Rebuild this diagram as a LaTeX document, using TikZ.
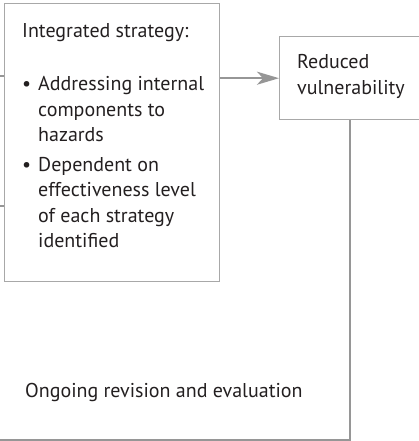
\documentclass[tikz,border=0pt]{standalone}
\usepackage{fontspec}
\setmainfont{PT Sans}
\usetikzlibrary{arrows.meta}

\definecolor{boxgray}{RGB}{168,168,168}
\definecolor{linegray}{RGB}{150,150,150}
\definecolor{inkgray}{RGB}{35,31,32}

\tikzset{
  box/.style={draw=boxgray, line width=1.4pt, inner sep=0pt, anchor=north west},
  link/.style={draw=linegray, line width=2.2pt},
  txt/.style={inner sep=0pt, anchor=base west, text=inkgray, font=\fontsize{20}{25}\selectfont},
}

\begin{document}
\begin{tikzpicture}[x=1pt,y=-1pt]

% Page frame
\clip (0,0) rectangle (419,441);

% Boxes
\node[box, minimum width=215pt, minimum height=278pt] (strategy) at (4,3) {};
\node[box, minimum width=160pt, minimum height=83pt] (reduced) at (279,36) {};

% Texts of the left box
\node[txt] (title) at (22,38) {Integrated strategy:};
\node[txt] (bulA) at (22,91) {\textbullet};
\node[txt] (lineA1) at (38,91) {Addressing internal};
\node[txt] (lineA2) at (38,116) {components to};
\node[txt] (lineA3) at (38,141) {hazards};
\node[txt] (bulB) at (22,171) {\textbullet};
\node[txt] (lineB1) at (38,171) {Dependent on};
\node[txt] (lineB2) at (38,196) {effectiveness level};
\node[txt] (lineB3) at (38,222) {of each strategy};
\node[txt] (lineB4) at (38,247) {identified};

% Texts of the right box
\node[txt] (red1) at (297,69) {Reduced};
\node[txt] (red2) at (297,95) {vulnerability};

% Feedback label
\node[txt] (loop) at (25,397) {Ongoing revision and evaluation};

% Free ends
\coordinate (inA) at (0,76);
\coordinate (inB) at (0,206);
\coordinate (corner) at (350,440);
\coordinate (back) at (0,440);

% Connectors
\draw[link, line width=1.2pt] (inA) -- (inA -| strategy.west);
\draw[link, line width=1.2pt] (inB) -- (inB -| strategy.west);
\draw[link, -{Stealth[length=22pt, width=13pt, inset=6pt]}] (strategy.east |- reduced.west) -- (reduced.west);
\draw[link] (reduced.south -| corner) -- (corner) -- (back);

\end{tikzpicture}
\end{document}
